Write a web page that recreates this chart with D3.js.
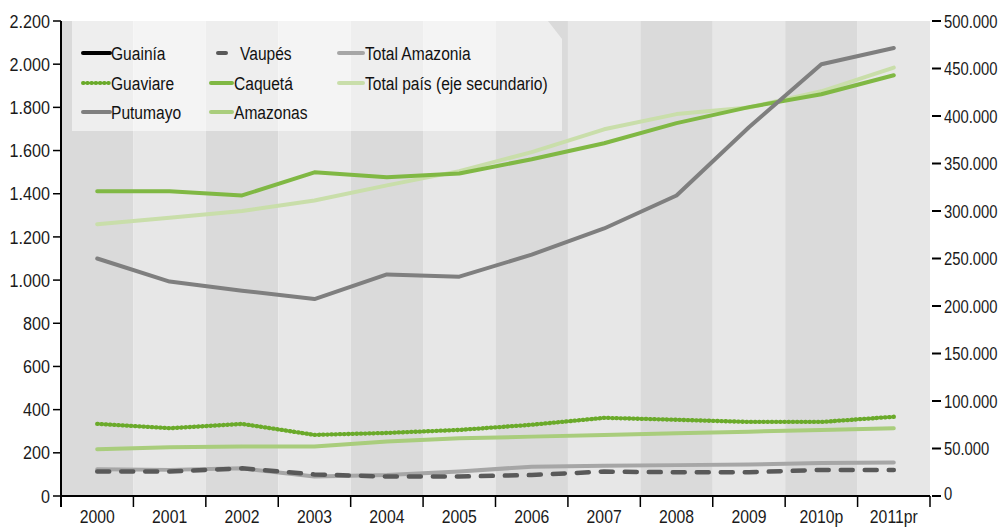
<!DOCTYPE html>
<html><head><meta charset="utf-8">
<script src="https://cdn.jsdelivr.net/npm/d3@7"></script>
<style>
body{margin:0;background:#fff;}
text{font-family:"Liberation Sans",Arial,sans-serif;}
</style></head>
<body><svg id="c" width="1000" height="529"></svg>
<script>
const years = ["2000","2001","2002","2003","2004","2005","2006","2007","2008","2009","2010p","2011pr"];
const leftTicks = [0,200,400,600,800,1000,1200,1400,1600,1800,2000,2200];
const rightTicks = [0,50000,100000,150000,200000,250000,300000,350000,400000,450000,500000];
const putumayo = [1100,993,951,912,1026,1016,1118,1239,1392,1708,2000,2075];
const caqueta = [1411,1411,1392,1499,1476,1494,1560,1634,1727,1801,1861,1949];
const guaviare = [334,314,334,283,292,306,330,362,353,343,343,367];
const amazonas = [217,226,229,229,252,267,275,283,291,298,306,314];
const totalAmazonia = [124,121,128,90,97,113,136,140,143,146,153,155];
const vaupes = [113,113,128,100,90,90,97,113,110,110,121,121];
const totalPais = [286000,293000,300000,311000,327000,342000,362000,386000,402000,409000,426000,451000];

const fmt = d3.formatLocale({decimal:",",thousands:".",grouping:[3],currency:["$",""]}).format(",");
const svg = d3.select("#c");
const L=61,R=930,T=21,B=496;
const x = d3.scaleBand().domain(years).range([L,R]);
const y = d3.scaleLinear().domain([0,2200]).range([B,T]);
const y2 = d3.scaleLinear().domain([0,500000]).range([B,T]);
const cx = d => x(d)+x.bandwidth()/2;

function txt(g,tx,ty,s,opts){
  const t = g.append("text").attr("transform",`translate(${tx},${ty}) scale(${opts.sx||0.83},1)`)
    .attr("font-size",opts.fs||19).attr("fill",opts.fill||"#1a1a1a")
    .attr("text-anchor",opts.anchor||"start").attr("dy",opts.dy||"0.35em").text(s);
  return t;
}

// bands
svg.append("g").selectAll("rect").data(years).join("rect")
  .attr("x",d=>x(d)).attr("y",T).attr("width",x.bandwidth()).attr("height",B-T)
  .attr("fill",(d,i)=>i%2===0?"#dadada":"#e7e7e7");

// legend box
const lg = svg.append("g");
lg.append("path").attr("d",`M72,${T}L548,${T}L562,39L562,131L72,131Z`)
  .attr("fill","rgba(255,255,255,0.55)");

// series
const series = [
  {name:"Total Amazonia",data:totalAmazonia,color:"#a6a6a6",w:4,dash:null,scale:y},
  {name:"Vaupés",data:vaupes,color:"#595959",w:4.5,dash:"12,12",scale:y},
  {name:"Amazonas",data:amazonas,color:"#a9cd7c",w:4,dash:null,scale:y},
  {name:"Guaviare",data:guaviare,color:"#6aaa2a",w:4.3,dash:"0.6,3.6",scale:y},
  {name:"Total país",data:totalPais,color:"#c9deaa",w:4,dash:null,scale:y2},
  {name:"Caquetá",data:caqueta,color:"#80b844",w:4,dash:null,scale:y},
  {name:"Putumayo",data:putumayo,color:"#7f7f7f",w:4,dash:null,scale:y},
];
series.forEach(s=>{
  const line = d3.line().x((d,i)=>cx(years[i])).y(d=>s.scale(d));
  svg.append("path").datum(s.data).attr("d",line).attr("fill","none")
    .attr("stroke",s.color).attr("stroke-width",s.w)
    .attr("stroke-dasharray",s.dash).attr("stroke-linecap","round").attr("stroke-linejoin","round");
});

// axes
const ax = svg.append("g");
ax.append("line").attr("x1",L).attr("x2",L).attr("y1",T).attr("y2",507).attr("stroke","#000").attr("stroke-width",2);
ax.append("line").attr("x1",L).attr("x2",R).attr("y1",B).attr("y2",B).attr("stroke","#000").attr("stroke-width",2);
leftTicks.forEach(v=>{
  ax.append("line").attr("x1",53).attr("x2",L).attr("y1",y(v)).attr("y2",y(v)).attr("stroke","#000").attr("stroke-width",1.5);
  txt(ax,50,y(v),fmt(v),{anchor:"end",sx:0.85});
});
years.forEach((d,i)=>{
  ax.append("line").attr("x1",x(d)+x.bandwidth()).attr("x2",x(d)+x.bandwidth()).attr("y1",B).attr("y2",507).attr("stroke","#000").attr("stroke-width",1.5);
  txt(ax,cx(d),523,d,{anchor:"middle",dy:"0",sx:0.83});
});
rightTicks.forEach(v=>{
  ax.append("line").attr("x1",932).attr("x2",941).attr("y1",y2(v)).attr("y2",y2(v)).attr("stroke","#000").attr("stroke-width",2);
  txt(ax,944,y2(v)-(v===0?3:0),fmt(v),{sx:0.78});
});

// legend items
const legendItems = [
  {t:"Guainía",c:"#000",x1:83,x2:110,tx:111,y:53},
  {t:"Guaviare",c:"#6aaa2a",x1:83,x2:110,tx:111,y:83,dash:"0.6,3.6"},
  {t:"Putumayo",c:"#7f7f7f",x1:83,x2:110,tx:111,y:112},
  {t:"Vaupés",c:"#595959",x1:218,x2:226,tx:240,y:53},
  {t:"Caquetá",c:"#80b844",x1:211,x2:232,tx:234,y:83},
  {t:"Amazonas",c:"#a9cd7c",x1:211,x2:232,tx:234,y:112},
  {t:"Total Amazonia",c:"#a6a6a6",x1:339,x2:363,tx:365,y:53},
  {t:"Total país (eje secundario)",c:"#c9deaa",x1:339,x2:363,tx:365,y:83},
];
legendItems.forEach(d=>{
  lg.append("line").attr("x1",d.x1).attr("x2",d.x2).attr("y1",d.y).attr("y2",d.y)
    .attr("stroke",d.c).attr("stroke-width",4).attr("stroke-linecap","round").attr("stroke-dasharray",d.dash||null);
  txt(lg,d.tx,d.y,d.t,{sx:0.82,fill:"#111"});
});
</script></body></html>
